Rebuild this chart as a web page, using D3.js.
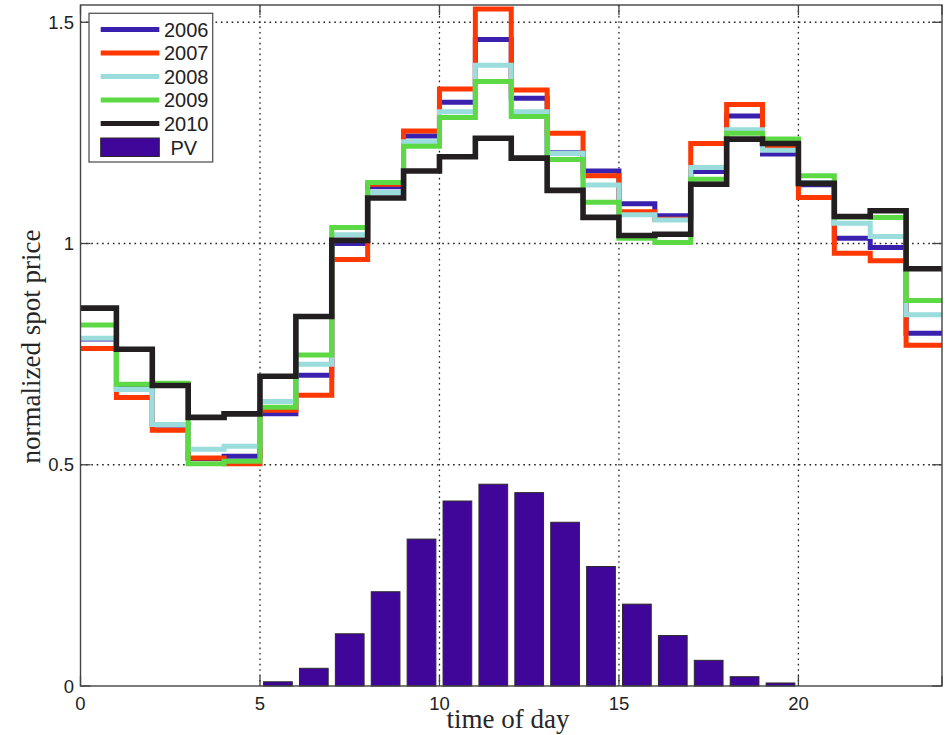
<!DOCTYPE html>
<html>
<head>
<meta charset="utf-8">
<script src="https://d3js.org/d3.v7.min.js"></script>
<style>
    body { margin: 0; background: #fff; }
    .tick-label { font-family: "Liberation Sans", Arial, sans-serif; font-size: 18.5px; fill: #222; }
    .axis-title { font-family: "Liberation Serif", "Times New Roman", serif; font-size: 27px; fill: #262626; }
    .legend-text { font-family: "Liberation Sans", Arial, sans-serif; font-size: 20px; fill: #222; }
</style>
</head>
<body>
<svg width="951" height="735"></svg>
<script>
    // hourly bins, value of bin h is held from h to h+1
    var hours = [0, 1, 2, 3, 4, 5, 6, 7, 8, 9, 10, 11, 12, 13, 14, 15, 16, 17, 18, 19, 20, 21, 22, 23];

    var years = ["2006", "2007", "2008", "2009", "2010"];
    var yearColors = ["#3a20ae", "#ff3700", "#9bdcdc", "#5cd944", "#231f20"];

    var p2006 = [0.784, 0.672, 0.590, 0.514, 0.519, 0.615, 0.702, 1.000, 1.128, 1.243, 1.319, 1.461, 1.328, 1.205, 1.164, 1.090, 1.063, 1.163, 1.288, 1.202, 1.133, 1.012, 0.991, 0.797];
    var p2007 = [0.763, 0.652, 0.578, 0.515, 0.502, 0.623, 0.657, 0.964, 1.134, 1.254, 1.349, 1.530, 1.347, 1.249, 1.153, 1.072, 1.055, 1.226, 1.314, 1.215, 1.104, 0.978, 0.961, 0.770];
    var p2008 = [0.786, 0.670, 0.591, 0.535, 0.542, 0.643, 0.727, 1.020, 1.115, 1.230, 1.298, 1.403, 1.298, 1.204, 1.132, 1.065, 1.053, 1.172, 1.257, 1.211, 1.138, 1.046, 1.016, 0.839];
    var p2009 = [0.816, 0.682, 0.684, 0.502, 0.508, 0.630, 0.748, 1.036, 1.138, 1.220, 1.285, 1.366, 1.287, 1.190, 1.093, 1.012, 1.002, 1.145, 1.249, 1.236, 1.153, 1.060, 1.059, 0.871];
    var p2010 = [0.854, 0.761, 0.679, 0.607, 0.615, 0.700, 0.835, 1.007, 1.103, 1.164, 1.196, 1.238, 1.193, 1.120, 1.059, 1.018, 1.021, 1.134, 1.236, 1.226, 1.136, 1.061, 1.074, 0.943];

    // PV output share per hour (bins 5..19)
    var pvHours = [5, 6, 7, 8, 9, 10, 11, 12, 13, 14, 15, 16, 17, 18, 19];
    var pvValues = [0.0095, 0.040, 0.118, 0.213, 0.332, 0.418, 0.456, 0.437, 0.370, 0.270, 0.185, 0.114, 0.058, 0.021, 0.0068];

    var xTicks = [0, 5, 10, 15, 20];
    var yTicks = [0, 0.5, 1, 1.5];
    var yTickLabels = ["0", "0.5", "1", "1.5"];

    var series = [p2006, p2007, p2008, p2009, p2010];
    var widths = [5, 5, 5, 5, 5.6];

    var svg = d3.select("svg");

    // plot box (note: "top" is a reserved window property)
    var pLeft = 80.5, pRight = 942, pTop = 5, pBottom = 686;

    var x = d3.scaleLinear().domain([0, 24]).range([pLeft, pRight]);
    var y = d3.scaleLinear().domain([0, 1.539]).range([pBottom, pTop]);

    svg.append("defs").append("clipPath").attr("id", "plot")
        .append("rect")
        .attr("x", pLeft).attr("y", pTop)
        .attr("width", pRight - pLeft).attr("height", pBottom - pTop);

    //grid lines
    var grid = svg.append("g");
    grid.selectAll(".vgrid")
        .data(xTicks.slice(1))
        .enter().append("line")
        .attr("x1", function(d) { return x(d); })
        .attr("x2", function(d) { return x(d); })
        .attr("y1", pTop).attr("y2", pBottom)
        .attr("stroke", "#222").attr("stroke-width", 1.3)
        .attr("stroke-dasharray", "1.6,3.8");
    grid.selectAll(".hgrid")
        .data(yTicks.slice(1))
        .enter().append("line")
        .attr("x1", pLeft).attr("x2", pRight)
        .attr("y1", function(d) { return y(d); })
        .attr("y2", function(d) { return y(d); })
        .attr("stroke", "#222").attr("stroke-width", 1.3)
        .attr("stroke-dasharray", "1.6,3.8");

    //pv bars
    svg.append("g")
        .selectAll("rect")
        .data(pvHours.map(function(h, i) { return [h, pvValues[i]]; }))
        .enter().append("rect")
        .attr("x", function(d) { return x(d[0] + 0.1); })
        .attr("width", function(d) { return x(d[0] + 0.9) - x(d[0] + 0.1); })
        .attr("y", function(d) { return y(d[1]); })
        .attr("height", function(d) { return y(0) - y(d[1]); })
        .attr("fill", "#3f0699")
        .attr("stroke", "#2a2a2a")
        .attr("stroke-width", 1);

    //price steps
    var line = d3.line()
        .x(function(d) { return x(d[0]); })
        .y(function(d) { return y(d[1]); })
        .curve(d3.curveStepAfter);

    var lines = svg.append("g").attr("clip-path", "url(#plot)");
    series.forEach(function(s, k) {
        var pts = hours.map(function(h, i) { return [h, s[i]]; });
        pts.push([24, s[s.length - 1]]);
        lines.append("path")
            .datum(pts)
            .attr("fill", "none")
            .attr("stroke", yearColors[k])
            .attr("stroke-width", widths[k])
            .attr("stroke-linejoin", "miter")
            .attr("d", line);
    });

    //box and inward ticks
    var frame = svg.append("g");
    frame.append("rect")
        .attr("x", pLeft).attr("y", pTop)
        .attr("width", pRight - pLeft).attr("height", pBottom - pTop)
        .attr("fill", "none").attr("stroke", "#444").attr("stroke-width", 1.4);

    xTicks.concat([24]).forEach(function(t) {
        frame.append("line").attr("x1", x(t)).attr("x2", x(t))
            .attr("y1", pBottom).attr("y2", pBottom - 10)
            .attr("stroke", "#444").attr("stroke-width", 1.3);
        frame.append("line").attr("x1", x(t)).attr("x2", x(t))
            .attr("y1", pTop).attr("y2", pTop + 10)
            .attr("stroke", "#444").attr("stroke-width", 1.3);
    });
    yTicks.forEach(function(t) {
        frame.append("line").attr("x1", pLeft).attr("x2", pLeft + 10)
            .attr("y1", y(t)).attr("y2", y(t))
            .attr("stroke", "#444").attr("stroke-width", 1.3);
        frame.append("line").attr("x1", pRight).attr("x2", pRight - 10)
            .attr("y1", y(t)).attr("y2", y(t))
            .attr("stroke", "#444").attr("stroke-width", 1.3);
    });

    //tick labels
    svg.selectAll(".xlab")
        .data(xTicks)
        .enter().append("text")
        .attr("class", "tick-label")
        .attr("x", function(d) { return x(d); })
        .attr("y", 710)
        .attr("text-anchor", "middle")
        .text(function(d) { return d; });

    svg.selectAll(".ylab")
        .data(yTicks)
        .enter().append("text")
        .attr("class", "tick-label")
        .attr("x", 74)
        .attr("y", function(d) { return y(d) + 6.5; })
        .attr("text-anchor", "end")
        .text(function(d, i) { return yTickLabels[i]; });

    //axis titles
    svg.append("text")
        .attr("class", "axis-title")
        .attr("x", 508)
        .attr("y", 727.5)
        .attr("text-anchor", "middle")
        .text("time of day");

    svg.append("text")
        .attr("class", "axis-title")
        .attr("transform", "translate(40,346.5) rotate(-90)")
        .attr("text-anchor", "middle")
        .text("normalized spot price");

    //legend
    var legend = svg.append("g");
    legend.append("rect")
        .attr("x", 89).attr("y", 13.3)
        .attr("width", 123.7).attr("height", 148.7)
        .attr("fill", "#fff").attr("stroke", "#555").attr("stroke-width", 1.3);

    years.forEach(function(name, i) {
        var ly = 29.5 + i * 23.5;
        legend.append("line")
            .attr("x1", 100.7).attr("x2", 159.3)
            .attr("y1", ly).attr("y2", ly)
            .attr("stroke", yearColors[i]).attr("stroke-width", 5);
        legend.append("text")
            .attr("class", "legend-text")
            .attr("x", 164).attr("y", ly + 7.3)
            .text(name);
    });
    legend.append("rect")
        .attr("x", 100.7).attr("y", 138)
        .attr("width", 58.6).attr("height", 18.5)
        .attr("fill", "#3f0699").attr("stroke", "#2a2a2a").attr("stroke-width", 1);
    legend.append("text")
        .attr("class", "legend-text")
        .attr("x", 170.5).attr("y", 154.6)
        .text("PV");
</script>
</body>
</html>
